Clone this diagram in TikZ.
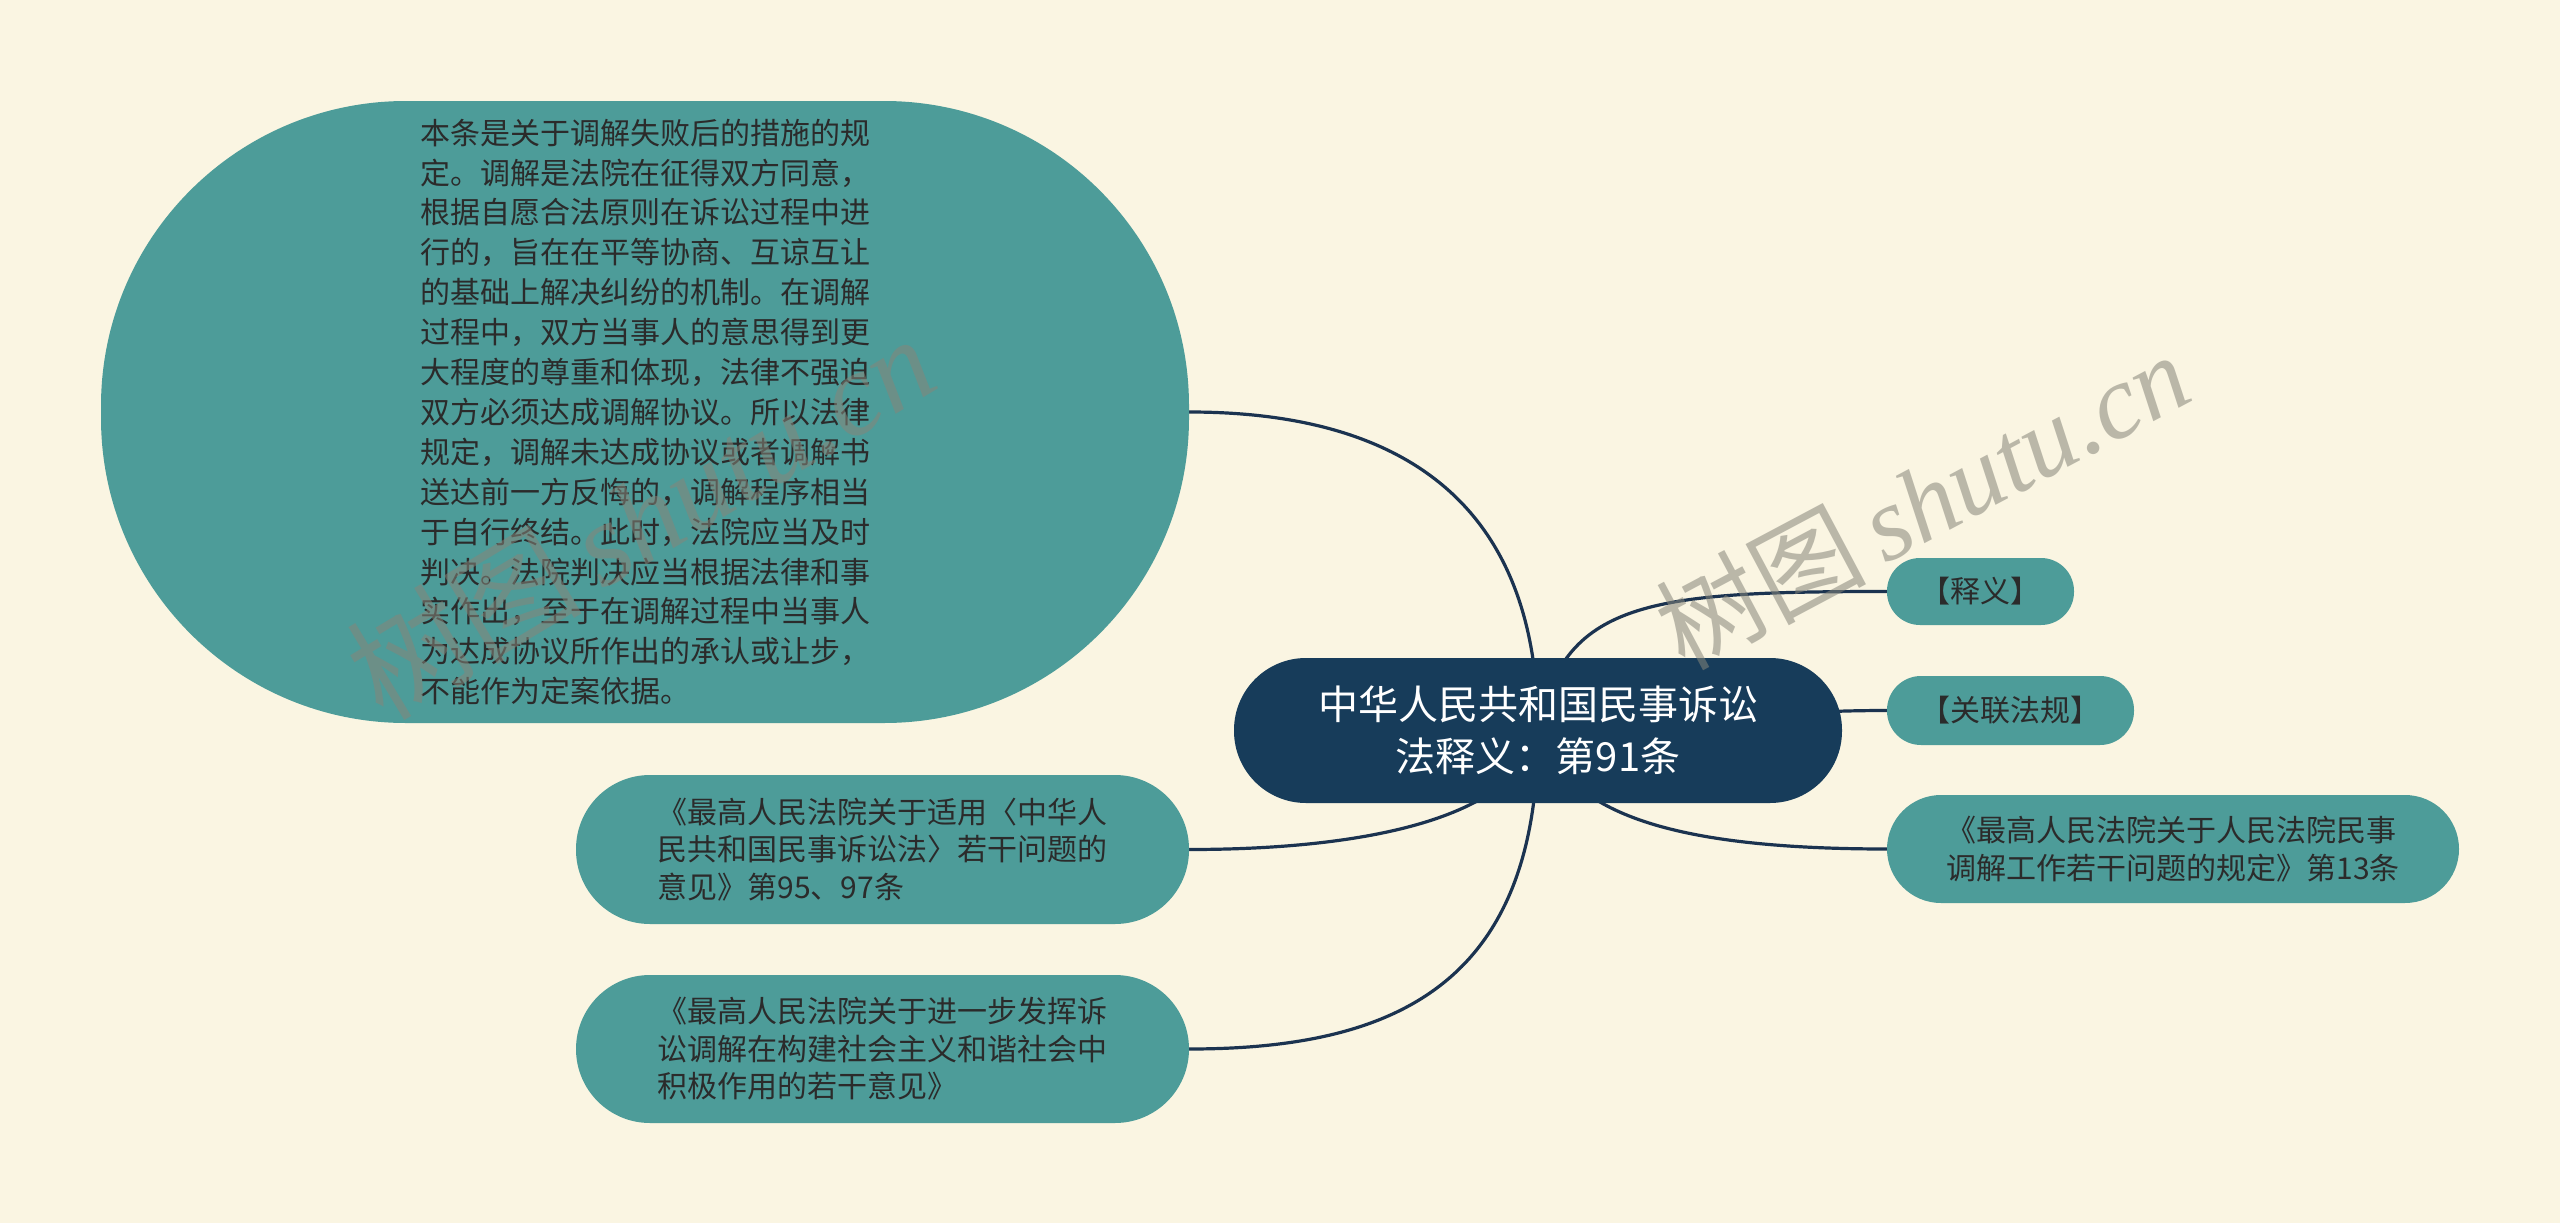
\documentclass[tikz,border=0pt]{standalone}
\usepackage{fontspec}
\setmainfont{Noto Sans CJK SC}
\newfontfamily\wmlatin{Liberation Serif}
\definecolor{bgc}{HTML}{FAF5E2}
\definecolor{tealc}{HTML}{4D9C99}
\definecolor{navyc}{HTML}{173C5A}
\definecolor{linec}{HTML}{1B3350}
\definecolor{txtc}{HTML}{2B2B2B}
\definecolor{wmc}{HTML}{86857A}
\pgfdeclarelayer{bg}
\pgfsetlayers{bg,main}
\begin{document}
\begin{tikzpicture}[x=1pt,y=-1pt,
  leaf/.style={rectangle, fill=tealc, text=txtc, align=left,
    font=\fontsize{30}{37.5}\selectfont, inner sep=0pt},
  root/.style={rectangle, fill=navyc, text=white, align=center,
    font=\fontsize{40}{52}\selectfont, inner sep=0pt},
  conn/.style={draw=linec, line width=3.2pt},
  wmark/.style={text=wmc, text opacity=0.55, font=\fontsize{105}{110}\selectfont, inner sep=0pt}]
\useasboundingbox (0,0) rectangle (2560,1223);

\node[root, minimum width=608pt, minimum height=145pt, rounded corners=72pt] (c) at (1538,730.5)
  {中华人民共和国民事诉讼\\法释义：第91条};

\node[leaf, minimum width=1088pt, minimum height=622pt, rounded corners=305pt,
      font=\fontsize{30}{39.9}\selectfont] (big) at (645,412)
  {本条是关于调解失败后的措施的规\\
   定。调解是法院在征得双方同意，\\
   根据自愿合法原则在诉讼过程中进\\
   行的，旨在在平等协商、互谅互让\\
   的基础上解决纠纷的机制。在调解\\
   过程中，双方当事人的意思得到更\\
   大程度的尊重和体现，法律不强迫\\
   双方必须达成调解协议。所以法律\\
   规定，调解未达成协议或者调解书\\
   送达前一方反悔的，调解程序相当\\
   于自行终结。此时，法院应当及时\\
   判决。法院判决应当根据法律和事\\
   实作出，至于在调解过程中当事人\\
   为达成协议所作出的承认或让步，\\
   不能作为定案依据。\hspace*{0pt}};

\node[leaf, minimum width=187pt, minimum height=67pt, rounded corners=33pt] (shiyi) at (1980.5,591.5)
  {【释义】};
\node[leaf, minimum width=247pt, minimum height=69pt, rounded corners=34pt] (guanlian) at (2010.5,710.5)
  {【关联法规】};
\node[leaf, minimum width=572pt, minimum height=108pt, rounded corners=54pt] (r3) at (2173,849)
  {《最高人民法院关于人民法院民事\\调解工作若干问题的规定》第13条};
\node[leaf, minimum width=613pt, minimum height=149pt, rounded corners=74pt] (l1) at (882.5,849.5)
  {《最高人民法院关于适用〈中华人\\民共和国民事诉讼法〉若干问题的\\意见》第95、97条};
\node[leaf, minimum width=613pt, minimum height=148pt, rounded corners=74pt] (l2) at (882.5,1049)
  {《最高人民法院关于进一步发挥诉\\讼调解在构建社会主义和谐社会中\\积极作用的若干意见》};

\begin{pgfonlayer}{bg}
\fill[bgc] (0,0) rectangle (2560,1223);
\draw[conn] (c.center) .. controls +(0,-230) and +(210,0) .. (big.east);
\draw[conn] (c.center) .. controls +(25,-130) and +(-237,0) .. (shiyi.west);
\draw[conn] (c.center) .. controls +(150,0) and +(-150,0) .. (guanlian.west);
\draw[conn] (c.center) .. controls +(28,75) and +(-237,0) .. (r3.west);
\draw[conn] (c.center) .. controls +(-20,90) and +(170,0) .. (l1.east);
\draw[conn] (c.center) .. controls +(0,250) and +(211,0) .. (l2.east);
\end{pgfonlayer}

\node[wmark, rotate=31, font=\fontsize{118}{120}\selectfont] (wm1) at (640,516) {树图\,{\wmlatin\itshape shutu.cn}};
\node[wmark, rotate=28] (wm2) at (1922,500) {树图\,{\wmlatin\itshape shutu.cn}};
\end{tikzpicture}
\end{document}
